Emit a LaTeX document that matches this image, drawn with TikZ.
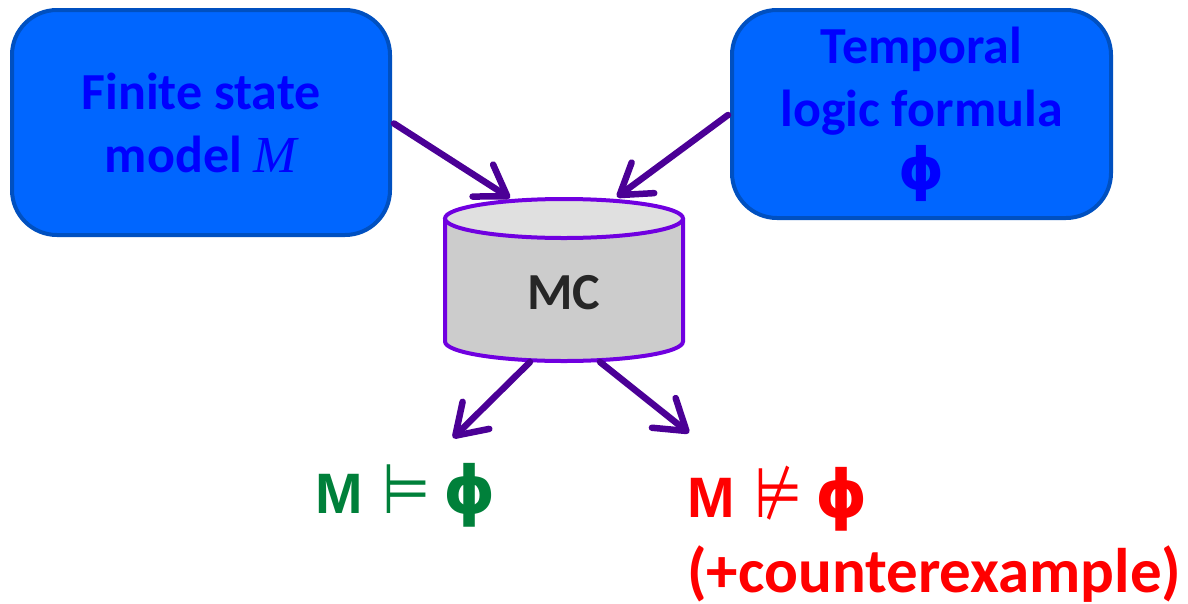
\documentclass[tikz,border=0pt]{standalone}
\usepackage{fontspec}
\usepackage{graphicx}
\setmainfont{Carlito}
\newfontfamily\arialf{Liberation Sans}
\newfontfamily\dejavu{DejaVu Sans}
\newfontfamily\serifit{Liberation Serif}
\usetikzlibrary{arrows.meta,calc}
\definecolor{boxfill}{HTML}{0066FF}
\definecolor{boxdraw}{HTML}{0050C0}
\definecolor{boxtext}{HTML}{0000FF}
\definecolor{cylline}{HTML}{7000E0}
\definecolor{cylbody}{HTML}{CCCCCC}
\definecolor{cyltop}{HTML}{E0E0E0}
\definecolor{arrowc}{HTML}{4B0096}
\definecolor{greenc}{HTML}{00803A}
\definecolor{redc}{HTML}{FF0000}
\definecolor{mctext}{HTML}{262626}
\newcommand{\phisym}[1]{{\dejavu\bfseries\fontsize{#1}{60}\selectfont ϕ}}
\newcommand{\relsym}[1]{\scalebox{1.15}[1.45]{\dejavu\fontsize{48}{60}\selectfont #1}}
\begin{document}
\begin{tikzpicture}[x=1pt,y=-1pt,
  box/.style={draw=boxdraw, fill=boxfill, line width=4pt, rounded corners=45pt,
    text=boxtext, align=center, inner sep=0pt,
    font=\fontsize{52}{63}\selectfont\bfseries},
  conn/.style={draw=arrowc, line width=6.5pt, line cap=round,
    -{Straight Barb[length=29pt,width=38pt,round]}},
  cylpen/.style={draw=cylline, line width=4pt},
  result/.style={anchor=base west, inner sep=0pt}]
\useasboundingbox (0,0) rectangle (1188,603);
% boxes
\node[box, minimum width=378pt, minimum height=225pt] (b1) at (201,122.5) {Finite state\\model {\serifit\mdseries\itshape M}};
\node[box, minimum width=379pt, minimum height=208pt] (b2) at (921.5,114) {Temporal\\logic formula\\\phisym{58}};
% cylinder
\fill[cylbody] (445,218.5) -- (445,341.5) arc[start angle=180,end angle=0,x radius=119,y radius=19.5] -- (683,218.5) -- cycle;
\draw[cylpen] (445,218.5) -- (445,341.5) arc[start angle=180,end angle=0,x radius=119,y radius=19.5] -- (683,218.5);
\draw[cylpen, fill=cyltop] (564,218.5) ellipse[x radius=119, y radius=19.5];
\node[inner sep=0pt, text=mctext, font=\fontsize{52}{63}\selectfont\bfseries] (mc) at (564,292.5) {MC};
% connector ends on the cylinder and free ends
\coordinate (in1) at (510,198);
\coordinate (in2) at (617,197);
\coordinate (out1) at (530,362);
\coordinate (out2) at (600,362);
\coordinate (end1) at (453,438);
\coordinate (end2) at (689,433);
% results
\node[result, text=greenc] (sat) at (315,513) {{\arialf\bfseries\fontsize{57}{60}\selectfont M}\hspace{20pt}\relsym{⊨}\hspace{13pt}\phisym{66}};
\node[result, text=redc] (unsat) at (687,517) {{\arialf\bfseries\fontsize{57}{60}\selectfont M}\hspace{20pt}\relsym{⊭}\hspace{13pt}\phisym{66}};
\node[result, text=redc, font=\fontsize{63}{70}\selectfont\bfseries] (cex) at (687,592) {(+counterexample)};
% connectors
\draw[conn] ($(b1.east)+(2,1)$) -- (in1);
\draw[conn] ($(b2.west)+(-2,1)$) -- (in2);
\draw[conn] (out1) -- (end1);
\draw[conn] (out2) -- (end2);
\end{tikzpicture}
\end{document}
